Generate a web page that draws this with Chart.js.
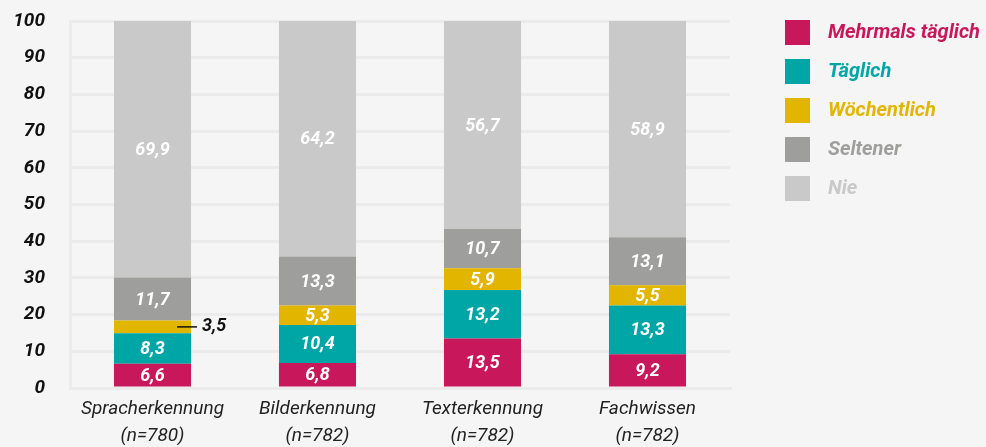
<!DOCTYPE html>
<html>
<head>
<meta charset="utf-8">
<script src="https://cdn.jsdelivr.net/npm/chart.js@4"></script>
<style>
  body { margin: 0; background: #f5f5f5; }
  #wrap { width: 986px; height: 447px; }
</style>
</head>
<body>
<div id="wrap"><canvas id="chart" width="986" height="447"></canvas></div>
<script>
// data
const categories = [
  ['Spracherkennung', '(n=780)'],
  ['Bilderkennung', '(n=782)'],
  ['Texterkennung', '(n=782)'],
  ['Fachwissen', '(n=782)']
];
const seriesNames = ['Mehrmals täglich', 'Täglich', 'Wöchentlich', 'Seltener', 'Nie'];
const mehrmalsTaeglich = [6.6, 6.8, 13.5, 9.2];
const taeglich = [8.3, 10.4, 13.2, 13.3];
const woechentlich = [3.5, 5.3, 5.9, 5.5];
const seltener = [11.7, 13.3, 10.7, 13.1];
const nie = [69.9, 64.2, 56.7, 58.9];
const yTicks = [0, 10, 20, 30, 40, 50, 60, 70, 80, 90, 100];

const colors = ['#c8175a', '#00a5a5', '#e2b600', '#9e9e9c', '#c9c9c9'];
const gridColor = '#ebebeb';

const fmt = v => v.toFixed(1).replace('.', ',');

// values inside the bars, small ones get a leader line outside
const valueLabels = {
  id: 'valueLabels',
  afterDatasetsDraw(chart) {
    const ctx = chart.ctx;
    ctx.save();
    ctx.font = 'italic bold 18px Roboto';
    ctx.textBaseline = 'middle';
    chart.data.datasets.forEach((ds, i) => {
      const meta = chart.getDatasetMeta(i);
      meta.data.forEach((bar, j) => {
        const v = ds.data[j];
        const cy = (bar.y + bar.base) / 2;
        if (v < 4) {
          const right = bar.x + bar.width / 2;
          ctx.strokeStyle = '#111';
          ctx.lineWidth = 1.5;
          ctx.beginPath();
          ctx.moveTo(right - 14, cy);
          ctx.lineTo(right + 6, cy);
          ctx.stroke();
          ctx.fillStyle = '#111';
          ctx.textAlign = 'left';
          ctx.fillText(fmt(v), right + 11, cy);
        } else {
          ctx.fillStyle = '#ffffff';
          ctx.textAlign = 'center';
          ctx.fillText(fmt(v), bar.x, cy + 1);
        }
      });
    });
    ctx.restore();
  }
};

// legend on the right, text in series colour
const sideLegend = {
  id: 'sideLegend',
  afterDraw(chart) {
    const ctx = chart.ctx;
    ctx.save();
    ctx.font = 'italic bold 20px Roboto';
    ctx.textBaseline = 'middle';
    ctx.textAlign = 'left';
    chart.data.datasets.forEach((ds, i) => {
      const top = 20 + i * 39;
      ctx.fillStyle = ds.backgroundColor;
      ctx.fillRect(785, top, 25, 25);
      ctx.fillText(ds.label, 828, top + 13);
    });
    ctx.restore();
  }
};

function makeChart() {
  const ctx = document.getElementById('chart').getContext('2d');
  const series = [mehrmalsTaeglich, taeglich, woechentlich, seltener, nie];
  new Chart(ctx, {
    type: 'bar',
    data: {
      labels: categories,
      datasets: series.map((d, i) => ({
        label: seriesNames[i],
        data: d,
        backgroundColor: colors[i],
        borderWidth: 0,
        categoryPercentage: 1,
        barPercentage: 0.467
      }))
    },
    options: {
      responsive: false,
      animation: false,
      layout: { padding: { top: 21, right: 256, bottom: 0, left: 0 } },
      plugins: {
        legend: { display: false },
        tooltip: { enabled: false }
      },
      scales: {
        x: {
          stacked: true,
          grid: {
            drawTicks: false,
            lineWidth: 3,
            color: c => (c.index === 4 ? gridColor : 'transparent')
          },
          border: { color: gridColor, width: 3 },
          ticks: {
            color: '#222',
            padding: 8,
            maxRotation: 0,
            font: { family: 'Roboto', size: 19, style: 'italic', lineHeight: 1.4 }
          },
          afterFit: s => { s.height = 59; s.paddingLeft = 0; s.paddingRight = 0; }
        },
        y: {
          stacked: true,
          min: 0,
          max: 100,
          afterBuildTicks: s => { s.ticks = yTicks.map(v => ({ value: v })); },
          grid: { drawTicks: false, color: gridColor, lineWidth: 3 },
          border: { color: gridColor, width: 3 },
          ticks: {
            color: '#111',
            padding: 25,
            font: { family: 'Roboto', size: 19, style: 'italic', weight: 'bold' }
          },
          afterFit: s => { s.width = 70; s.paddingTop = 0; s.paddingBottom = 0; }
        }
      }
    },
    plugins: [valueLabels, sideLegend]
  });
}

Promise.all([
  document.fonts.load('italic bold 18px Roboto'),
  document.fonts.load('italic 19px Roboto')
]).then(makeChart, makeChart);
</script>
</body>
</html>
